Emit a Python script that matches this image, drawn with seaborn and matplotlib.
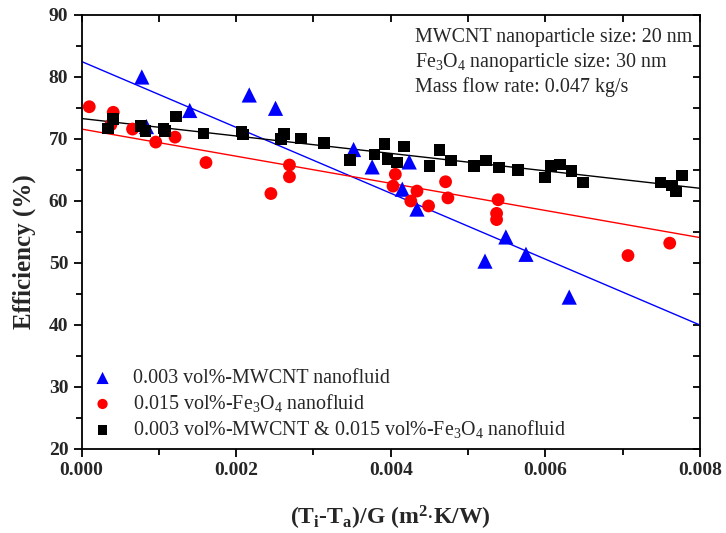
import numpy as np
import pandas as pd
import matplotlib
matplotlib.use("Agg")
import matplotlib.pyplot as plt
import seaborn as sns
from matplotlib.ticker import MultipleLocator

# ---------------- data ----------------
mwcnt_x = [0.00078, 0.00084, 0.00140, 0.00217, 0.00251, 0.00352, 0.00376,
           0.00415, 0.00424, 0.00434, 0.00522, 0.00549, 0.00575, 0.00631]
mwcnt_y = [80.0, 72.0, 74.6, 77.1, 74.95, 68.3, 65.5,
           61.9, 66.3, 58.7, 50.3, 54.2, 51.4, 44.5]

fe_x = [0.00010, 0.00038, 0.00041, 0.00066, 0.00096, 0.00121, 0.00161,
        0.00245, 0.00269, 0.00269, 0.00403, 0.00406, 0.00426, 0.00434,
        0.00449, 0.00471, 0.00474, 0.00537, 0.00537, 0.00539, 0.00707, 0.00761]
fe_y = [75.2, 72.3, 74.3, 71.6, 69.5, 70.3, 66.2,
        61.2, 65.8, 63.9, 62.4, 64.3, 60.0, 61.6,
        59.2, 63.1, 60.5, 57.0, 58.0, 60.2, 51.2, 53.2]

hyb_x = [0.00034, 0.00041, 0.00077, 0.00083, 0.00106, 0.00108, 0.00122,
         0.00158, 0.00207, 0.00209, 0.00258, 0.00262, 0.00284, 0.00314,
         0.00347, 0.00379, 0.00392, 0.00396, 0.00408, 0.00417, 0.00450,
         0.00463, 0.00478, 0.00508, 0.00523, 0.00540, 0.00565, 0.00600,
         0.00607, 0.00619, 0.00634, 0.00649, 0.00749, 0.00764, 0.00769, 0.00777]
hyb_y = [71.7, 73.2, 72.1, 71.3, 71.7, 71.3, 73.6,
         70.9, 71.2, 70.7, 70.0, 70.8, 70.1, 69.4,
         66.6, 67.5, 69.2, 66.8, 66.2, 68.8, 65.6,
         68.2, 66.5, 65.6, 66.5, 65.4, 65.0, 63.8,
         65.6, 65.9, 64.8, 63.0, 63.0, 62.5, 61.5, 64.1]

# linear fit lines (value at x = 0 and at x = 0.008)
fit_x = [0.0, 0.008]
mwcnt_fit = [82.5, 40.0]
fe_fit = [71.6, 54.1]
hyb_fit = [73.3, 62.05]

labels = ["0.003 vol%-MWCNT nanofluid",
          "0.015 vol%-Fe$_3$O$_4$ nanofluid",
          "0.003 vol%-MWCNT & 0.015 vol%-Fe$_3$O$_4$ nanofluid"]

info_lines = ["MWCNT nanoparticle size: 20 nm",
              "Fe$_3$O$_4$ nanoparticle size: 30 nm",
              "Mass flow rate: 0.047 kg/s"]

# ---------------- plot ----------------
sns.set_theme(style="white")
plt.rcParams["font.family"] = ["Liberation Serif", "DejaVu Serif"]
plt.rcParams["mathtext.fontset"] = "custom"
plt.rcParams["mathtext.rm"] = "Liberation Serif"
plt.rcParams["mathtext.it"] = "Liberation Serif:italic"
plt.rcParams["mathtext.bf"] = "Liberation Serif:bold"

fig = plt.figure(figsize=(7.26, 5.33), dpi=100)
ax = fig.add_axes([0.1123, 0.1576, 0.8517, 0.8143])

sns.lineplot(x=fit_x, y=mwcnt_fit, color="#0000ff", lw=1.0, ax=ax, legend=False)
sns.lineplot(x=fit_x, y=fe_fit, color="#ff0000", lw=1.0, ax=ax, legend=False)
sns.lineplot(x=fit_x, y=hyb_fit, color="#000000", lw=1.0, ax=ax, legend=False)

sns.scatterplot(x=mwcnt_x, y=mwcnt_y, marker="^", s=120, color="#0000ff",
                edgecolor="none", ax=ax, label=labels[0], zorder=3)
sns.scatterplot(x=fe_x, y=fe_y, marker="o", s=85, color="#ff0000",
                edgecolor="none", ax=ax, label=labels[1], zorder=3)
sns.scatterplot(x=hyb_x, y=hyb_y, marker="s", s=70, color="#000000",
                edgecolor="none", ax=ax, label=labels[2], zorder=3)

ax.set_xlim(0, 0.008)
ax.set_ylim(20, 90)
ax.xaxis.set_major_locator(MultipleLocator(0.002))
ax.xaxis.set_minor_locator(MultipleLocator(0.001))
ax.yaxis.set_major_locator(MultipleLocator(10))
ax.yaxis.set_minor_locator(MultipleLocator(5))
ax.xaxis.set_major_formatter(matplotlib.ticker.FormatStrFormatter("%.3f"))

for sp in ax.spines.values():
    sp.set_color("black")
    sp.set_linewidth(1.3)

ax.tick_params(axis="both", which="major", direction="out", length=6, width=1.3,
               labelsize=14, color="black", bottom=True, left=True)
ax.tick_params(axis="both", which="minor", direction="out", length=4, width=1.3,
               color="black", bottom=True, left=True)
for lab in ax.get_xticklabels() + ax.get_yticklabels():
    lab.set_fontweight("bold")

# mirrored inward ticks on top/right
top = ax.secondary_xaxis("top")
top.xaxis.set_major_locator(MultipleLocator(0.001))
top.tick_params(direction="in", length=5, width=1.3, labeltop=False, color="black")
top.spines["top"].set_visible(False)
right = ax.secondary_yaxis("right")
right.yaxis.set_major_locator(MultipleLocator(5))
right.tick_params(direction="in", length=5, width=1.3, labelright=False, color="black")
right.spines["right"].set_visible(False)

ax.set_ylabel("Efficiency (%)", fontsize=18, fontweight="bold")
ax.yaxis.set_label_coords(-0.074, 0.454)
ax.set_xlabel(r"(T$_\mathbf{i}$-T$_\mathbf{a}$)/G (m$^\mathbf{2}$$\cdot$K/W)",
              fontsize=17, fontweight="bold", labelpad=18)

for i, t in enumerate(info_lines):
    ax.text(0.539, 0.948 - i * 0.0576, t, transform=ax.transAxes, ha="left",
            va="center", fontsize=14.4)

leg = ax.legend(loc="lower left", bbox_to_anchor=(-0.021, -0.012), frameon=False,
                fontsize=14.4, handletextpad=0.5, labelspacing=0.2,
                borderaxespad=0.3, markerscale=0.8)

fig.savefig("out.png", dpi=100)
